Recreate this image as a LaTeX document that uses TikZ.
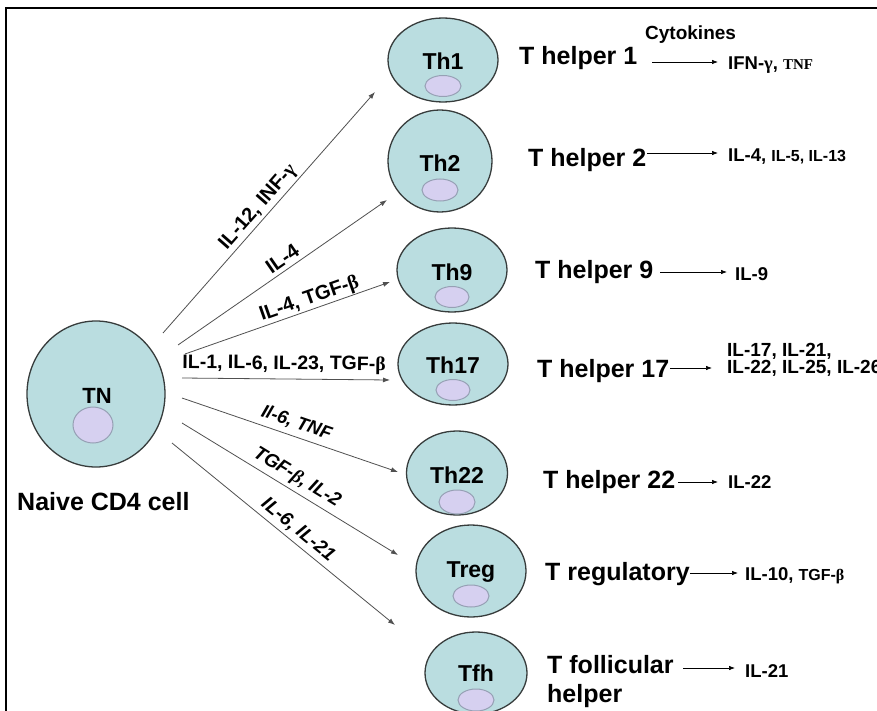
\documentclass[tikz,border=0pt]{standalone}
\usepackage{fontspec}
\setmainfont{Liberation Sans}
\newfontfamily\serifb{Liberation Serif}
\usetikzlibrary{shapes.geometric,arrows.meta}
\definecolor{cellfill}{RGB}{186,221,224}
\definecolor{nucfill}{RGB}{214,208,240}
\definecolor{nucline}{RGB}{150,160,180}
\definecolor{cellline}{RGB}{55,60,60}
\definecolor{arrline}{RGB}{80,80,80}
\newcommand{\fsz}[1]{\fontsize{#1}{#1}\selectfont}
\newcommand{\gk}[1]{{\serifb #1}}
\begin{document}
\begin{tikzpicture}[x=1pt,y=-1pt,
  cell/.style={ellipse,draw=cellline,line width=1.3pt,fill=cellfill,inner sep=0pt},
  nuc/.style={ellipse,draw=nucline,line width=1pt,fill=nucfill,inner sep=0pt,minimum width=36pt,minimum height=21pt},
  clab/.style={font=\fsz{23}\bfseries,anchor=base,inner sep=0pt},
  hlab/.style={font=\fsz{25}\bfseries,anchor=base west,inner sep=0pt},
  cyto/.style={font=\fsz{18.5}\bfseries,anchor=base west,inner sep=0pt},
  diff/.style={draw=arrline,line width=0.8pt,-{Latex[length=7pt,width=5pt]}},
  prod/.style={draw=black,line width=0.7pt,-{Latex[length=6pt,width=4.5pt]}},
  alab/.style={font=\fsz{20}\bfseries,sloped,inner sep=1pt},
  alabi/.style={font=\fsz{19}\bfseries\itshape,sloped,inner sep=1pt}
]
\useasboundingbox (0,0) rectangle (877,711);
\fill[white] (0,0) rectangle (877,711);
% frame
\draw[line width=2.5pt] (6,711) -- (6,8) -- (877,8);

% naive cell
\node[cell,minimum width=138pt,minimum height=146pt] (tn) at (96,394) {};
\node[clab,font=\fsz{22}\bfseries] (tnl) at (97,403) {TN};
\node[nuc,minimum width=40pt,minimum height=36pt] (tnn) at (93,425) {};
\node[hlab] (naive) at (17,510) {Naive CD4 cell};

% differentiated cells
\node[cell,minimum width=110pt,minimum height=84pt] (th1) at (443,60) {};
\node[clab] (th1l) at (443,70) {Th1};
\node[nuc] (th1n) at (443,86) {};

\node[cell,minimum width=104pt,minimum height=102pt] (th2) at (440,161) {};
\node[clab] (th2l) at (440,172) {Th2};
\node[nuc,minimum height=22pt] (th2n) at (440,190) {};

\node[cell,minimum width=110pt,minimum height=84pt] (th9) at (452,270) {};
\node[clab] (th9l) at (452,280) {Th9};
\node[nuc,minimum width=34pt] (th9n) at (452,297) {};

\node[cell,minimum width=110pt,minimum height=82pt] (th17) at (453,364) {};
\node[clab] (th17l) at (453,373) {Th17};
\node[nuc,minimum width=34pt] (th17n) at (453,390) {};

\node[cell,minimum width=101pt,minimum height=84pt] (th22) at (457,473) {};
\node[nuc,minimum height=24pt] (th22n) at (457,502) {};
\node[clab] (th22l) at (457,483) {Th22};

\node[cell,minimum width=110pt,minimum height=92pt] (treg) at (471,571) {};
\node[nuc,minimum height=22pt] (tregn) at (471,596) {};
\node[clab] (tregl) at (471,577) {Treg};

\node[cell,minimum width=102pt,minimum height=82pt] (tfh) at (476,673) {};
\node[clab] (tfhl) at (476,681) {Tfh};
\node[nuc,minimum height=22pt] (tfhn) at (476,700) {};

% differentiation arrows
\coordinate (s1) at (163,333); \coordinate (e1) at (375,92);
\coordinate (s2) at (178,345); \coordinate (e2) at (387,200);
\coordinate (s3) at (185,354); \coordinate (e3) at (390,282);
\coordinate (s4) at (182,378); \coordinate (e4) at (390,380);
\coordinate (s5) at (182,398); \coordinate (e5) at (398,472);
\coordinate (s6) at (182,423); \coordinate (e6) at (398,555);
\coordinate (s7) at (172,443); \coordinate (e7) at (395,625);

\draw[diff] (s1) -- node[alab,pos=0.49,above=1pt] (l1) {IL-12, INF-\gk{γ}} (e1);
\draw[diff] (s2) -- node[alab,pos=0.53,above=3pt] (l2) {IL-4} (e2);
\draw[diff] (s3) -- node[alab,pos=0.624,above] (l3) {IL-4, TGF-\gk{β}} (e3);
\draw[diff] (s4) -- node[alab,font=\fsz{19.5}\bfseries,pos=0.49,above=4pt] (l4) {IL-1, IL-6, IL-23, TGF-\gk{β}} (e4);
\draw[diff] (s5) -- node[alabi,font=\fsz{18.5}\bfseries\itshape,pos=0.51,above=4pt] (l5) {Il-6, TNF} (e5);
\draw[diff] (s6) -- node[alabi,pos=0.50,above=3pt] (l6) {TGF-\gk{β}, IL-2} (e6);
\draw[diff] (s7) -- node[alabi,pos=0.53,above=3pt] (l7) {IL-6, IL-21} (e7);

% subset names
\node[font=\fsz{19}\bfseries,anchor=base west,inner sep=0pt] (cyt) at (645,40) {Cytokines};
\node[hlab] (h1) at (519,65) {T helper 1};
\node[hlab] (h2) at (528,167) {T helper 2};
\node[hlab] (h9) at (535,278) {T helper 9};
\node[hlab] (h17) at (537,377) {T helper 17};
\node[hlab] (h22) at (543,488) {T helper 22};
\node[hlab] (hreg) at (545,580) {T regulatory};
\node[hlab,align=left,font=\fontsize{25}{29}\selectfont\bfseries,anchor=north west] (hfh) at (547,655) {T follicular\\helper};

% cytokines
\node[cyto] (c1) at (728,70) {IFN-\gk{γ}, {\serifb\fsz{15}TNF}};
\node[cyto] (c2) at (728,162) {IL-4, {\fsz{16}IL-5, IL-13}};
\node[cyto] (c9) at (735,280) {IL-9};
\node[cyto,align=left,font=\fontsize{19}{17}\selectfont\bfseries] (c17) at (727,373) {IL-17, IL-21,\\IL-22, IL-25, IL-26};
\node[cyto] (c22) at (728,488) {IL-22};
\node[cyto] (creg) at (745,580) {IL-10, {\fsz{16}TGF-\gk{β}}};
\node[cyto] (cfh) at (745,677) {IL-21};

% production arrows
\coordinate (p1a) at (652,62);  \coordinate (p1b) at (718,62);
\coordinate (p2a) at (647,153); \coordinate (p2b) at (718,153);
\coordinate (p9a) at (660,272); \coordinate (p9b) at (727,272);
\coordinate (p17a) at (670,368); \coordinate (p17b) at (712,368);
\coordinate (p22a) at (678,482); \coordinate (p22b) at (718,482);
\coordinate (prga) at (690,573); \coordinate (prgb) at (738,573);
\coordinate (pfha) at (683,668); \coordinate (pfhb) at (735,668);
\draw[prod] (p1a) -- (p1b);
\draw[prod] (p2a) -- (p2b);
\draw[prod] (p9a) -- (p9b);
\draw[prod] (p17a) -- (p17b);
\draw[prod] (p22a) -- (p22b);
\draw[prod] (prga) -- (prgb);
\draw[prod] (pfha) -- (pfhb);
\end{tikzpicture}
\end{document}
